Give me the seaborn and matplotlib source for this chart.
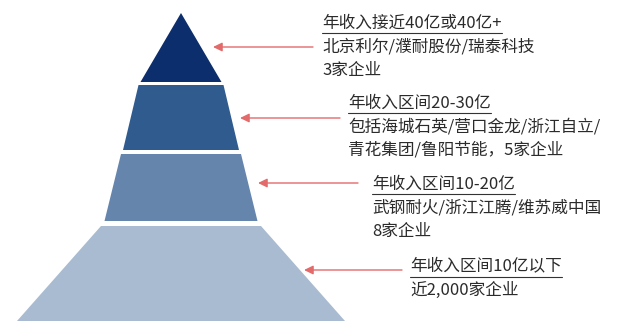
import matplotlib
matplotlib.use("Agg")
import matplotlib.pyplot as plt
import seaborn as sns

# ---- data ----
tier_titles = ["年收入接近40亿或40亿+", "年收入区间20-30亿", "年收入区间10-20亿", "年收入区间10亿以下"]
tier_line2 = ["北京利尔/濮耐股份/瑞泰科技", "包括海城石英/营口金龙/浙江自立/", "武钢耐火/浙江江腾/维苏威中国", "近2,000家企业"]
tier_line3 = ["3家企业", "青花集团/鲁阳节能，5家企业", "8家企业", ""]
tier_colors = ["#0c2e6c", "#2f5b8f", "#6585ad", "#a9bbd1"]

# ---- layout (pixel-like coordinates) ----
cx = 181
tier_y = [(13, 82), (85, 150), (154, 221), (226, 321)]
tier_half = [(0, 40.5), (42.5, 58), (60, 76.5), (80, 164)]
arrow_y = [47, 118, 183, 270]
arrow_tip = [213, 240, 258, 304]
arrow_end = [313, 340, 358, 402]
text_x = [322, 348, 372, 410]
text_y0 = [23, 103, 184, 267]
line_gap = 23.5

sns.set_theme(style="white")
plt.rcParams["font.family"] = ["Noto Sans CJK SC", "DejaVu Sans"]

fig = plt.figure(figsize=(6.25, 3.22), dpi=100)
ax = fig.add_axes([0, 0, 1, 1])
ax.set_xlim(0, 625)
ax.set_ylim(322, 0)
ax.axis("off")

for i in range(4):
    (y0, y1), (h0, h1) = tier_y[i], tier_half[i]
    ax.fill([cx - h0, cx + h0, cx + h1, cx - h1], [y0, y0, y1, y1],
            color=tier_colors[i], lw=0)
    ax.annotate("", xy=(arrow_tip[i], arrow_y[i]), xytext=(arrow_end[i], arrow_y[i]),
                arrowprops=dict(arrowstyle="-|>,head_length=0.45,head_width=0.22",
                                color="#e36a6a", lw=1.0, shrinkA=0, shrinkB=0))

fs = 12
tc = "#2b2b2b"
titles = []
for i in range(4):
    t = ax.text(text_x[i], text_y0[i], tier_titles[i], fontsize=fs, color=tc,
                va="center", ha="left")
    titles.append(t)
    ax.text(text_x[i], text_y0[i] + line_gap, tier_line2[i], fontsize=fs, color=tc,
            va="center", ha="left")
    if tier_line3[i]:
        ax.text(text_x[i], text_y0[i] + 2 * line_gap, tier_line3[i], fontsize=fs,
                color=tc, va="center", ha="left")

fig.canvas.draw()
r = fig.canvas.get_renderer()
inv = ax.transData.inverted()
for i, t in enumerate(titles):
    bb = t.get_window_extent(renderer=r)
    (xa, _), (xb, _) = inv.transform([(bb.x0, bb.y0), (bb.x1, bb.y0)])
    ax.plot([xa, xb], [text_y0[i] + 10, text_y0[i] + 10], color="#333333", lw=0.8)

fig.savefig("out.png", dpi=100)
